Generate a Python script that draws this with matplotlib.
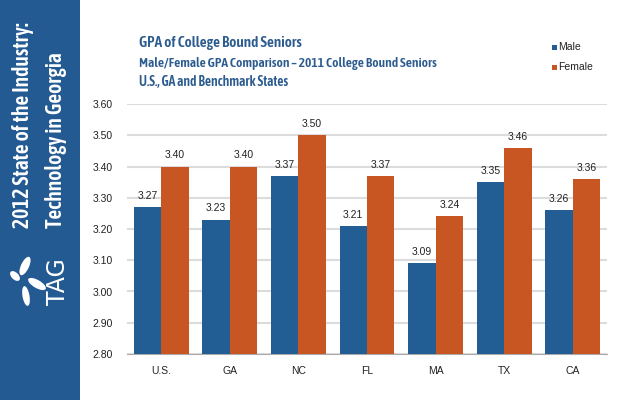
import numpy as np
import matplotlib.pyplot as plt
from matplotlib.patches import Rectangle, Ellipse

states = ["U.S.", "GA", "NC", "FL", "MA", "TX", "CA"]
male = [3.27, 3.23, 3.37, 3.21, 3.09, 3.35, 3.26]
female = [3.40, 3.40, 3.50, 3.37, 3.24, 3.46, 3.36]
yticks = [2.80, 2.90, 3.00, 3.10, 3.20, 3.30, 3.40, 3.50, 3.60]

blue = "#225d94"
orange = "#c75622"
side = "#245a92"
narrow = ["Asap Condensed", "DejaVu Sans"]

fig = plt.figure(figsize=(6.4, 4), dpi=100)
fig.patch.set_facecolor("white")

# sidebar
fig.patches.append(Rectangle((0, 0), 80/640, 1, transform=fig.transFigure,
                             facecolor=side, edgecolor="none", zorder=0))
fig.text(23/640, 1-228/400, "2012 State of the Industry:", rotation=90, color="white",
         fontsize=15.5, fontweight="semibold", family=narrow, ha="center", va="bottom")
fig.text(56/640, 1-228/400, "Technology in Georgia", rotation=90, color="white",
         fontsize=15.5, fontweight="semibold", family=narrow, ha="center", va="bottom")
fig.text(58/640, 1-282/400, "TAG", rotation=90, color="white", fontsize=17,
         ha="center", va="center", family="DejaVu Sans")
# logo petals (pixel positions -> inches)
for (cx, cy, w, h, a) in [(25, 266, 8, 20, -25), (15, 276, 7, 12, 45),
                          (37, 284, 20, 8, -30), (26, 296, 7, 20, 10)]:
    fig.patches.append(Ellipse((cx/100, (400-cy)/100), w/100, h/100, angle=a,
                               transform=fig.dpi_scale_trans, facecolor="white",
                               edgecolor="none", zorder=1))

# titles
tc = "#2b5b8f"
fig.text(139/640, 1-43/400, "GPA of College Bound Seniors", color=tc, fontsize=11,
         fontweight="semibold", family=narrow, va="center")
fig.text(139/640, 1-63/400, "Male/Female GPA Comparison \u2013 2011 College Bound Seniors",
         color=tc, fontsize=9.7, fontweight="semibold", family=narrow, va="center")
fig.text(139/640, 1-82/400, "U.S., GA and Benchmark States", color=tc, fontsize=9.8,
         fontweight="semibold", family=narrow, va="center")

# legend
fig.patches.append(Rectangle((552/640, 1-50/400), 5/640, 5/400, transform=fig.transFigure,
                             facecolor=blue, edgecolor="none"))
fig.patches.append(Rectangle((552/640, 1-70/400), 5/640, 5/400, transform=fig.transFigure,
                             facecolor=orange, edgecolor="none"))
fig.text(558/640, 1-47/400, "Male", fontsize=7.5, color="#222222", va="center",
         family="Liberation Sans")
fig.text(558/640, 1-67/400, "Female", fontsize=7.5, color="#222222", va="center",
         family="Liberation Sans")

ax = fig.add_axes([127/640, 1-354/400, 480/640, 250/400])
x = np.arange(len(states))
w = 0.4
ax.bar(x - w/2, male, w, color=blue, zorder=3)
ax.bar(x + w/2, female, w, color=orange, zorder=3)
for xi, v in zip(x, male):
    ax.text(xi - w/2, v + 0.02, "%.2f" % v, ha="center", va="bottom", fontsize=7.5,
            color="#222222", family="Liberation Sans")
for xi, v in zip(x, female):
    ax.text(xi + w/2, v + 0.02, "%.2f" % v, ha="center", va="bottom", fontsize=7.5,
            color="#222222", family="Liberation Sans")

ax.set_xlim(-0.5, len(states) - 0.5)
ax.set_ylim(2.80, 3.60)
ax.set_yticks(yticks)
ax.set_yticklabels(["%.2f" % t for t in yticks], family="Liberation Sans")
ax.set_xticks(x)
ax.set_xticklabels(states, family="Liberation Sans")
ax.tick_params(length=0, labelsize=7.5, colors="#222222")
ax.tick_params(axis="y", pad=10)
ax.tick_params(axis="x", pad=9)
ax.grid(axis="y", color="#dcdcdc", linewidth=1.5, zorder=0)
for s in ["top", "right", "left"]:
    ax.spines[s].set_visible(False)
ax.spines["bottom"].set_color("#aaaaaa")

fig.savefig("out.png", dpi=100)
